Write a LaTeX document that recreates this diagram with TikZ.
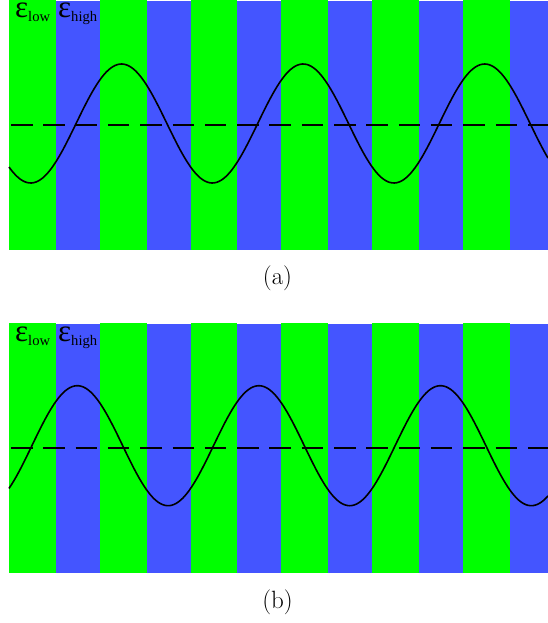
\documentclass[tikz,border=0pt]{standalone}
\usepackage{fontspec}
\newfontfamily\greekfont{Liberation Serif}
\usetikzlibrary{positioning}

\begin{document}
\begin{tikzpicture}[x=1pt, y=-1pt]
		\definecolor{lowgreen}{RGB}{0,255,0}
		\definecolor{highblue}{RGB}{68,85,255}
		\tikzstyle{wave} = [draw, black, line width=1.6pt]
		\tikzstyle{axis} = [draw, black, line width=2.2pt, dash pattern=on 21.5pt off 10.8pt]
		\tikzstyle{eps} = [anchor=base west, inner sep=0pt, text height=15pt, text depth=5pt, font=\greekfont\fontsize{31}{31}\selectfont]
		\tikzstyle{caption} = [font=\fontsize{25}{29}\selectfont]
		
		\useasboundingbox (0,0) rectangle (548,623);
		
		% stripes, both panels
		\foreach \py in {0,323} {
			\foreach \i in {0,...,5} {
				\fill[lowgreen] ({9+90.8*\i},\py) rectangle ({9+90.8*\i+46.7},\py+250);
				\fill[highblue] ({9+90.8*\i+46.7},\py+1) rectangle ({min(9+90.8*(\i+1),548)},\py+250);
			}
		}
		
		% panel (a)
		\path [axis] (11,125) -- (548,125);
		\path [wave] plot [domain=9:548, samples=240, smooth] (\x, {123.5+59.5*cos(1.9824*(\x-30.7))});
		\node [eps] (epslowa) at (15,18) {ε\raisebox{-4pt}{\fontsize{14.6}{15}\selectfont low}};
		\node [eps] (epshigha) at (58,18) {ε\raisebox{-4pt}{\fontsize{14.6}{15}\selectfont high}};
		\node [caption] (capa) at (277.5,278) {(a)};
		
		% panel (b)
		\path [axis] (11,448) -- (548,448);
		\path [wave] plot [domain=9:548, samples=240, smooth] (\x, {445.7-60*cos(1.9824*(\x-77.3))});
		\node [eps] (epslowb) at (15,341) {ε\raisebox{-4pt}{\fontsize{14.6}{15}\selectfont low}};
		\node [eps] (epshighb) at (58,341) {ε\raisebox{-4pt}{\fontsize{14.6}{15}\selectfont high}};
		\node [caption] (capb) at (277.5,602) {(b)};
	\end{tikzpicture}
\end{document}
